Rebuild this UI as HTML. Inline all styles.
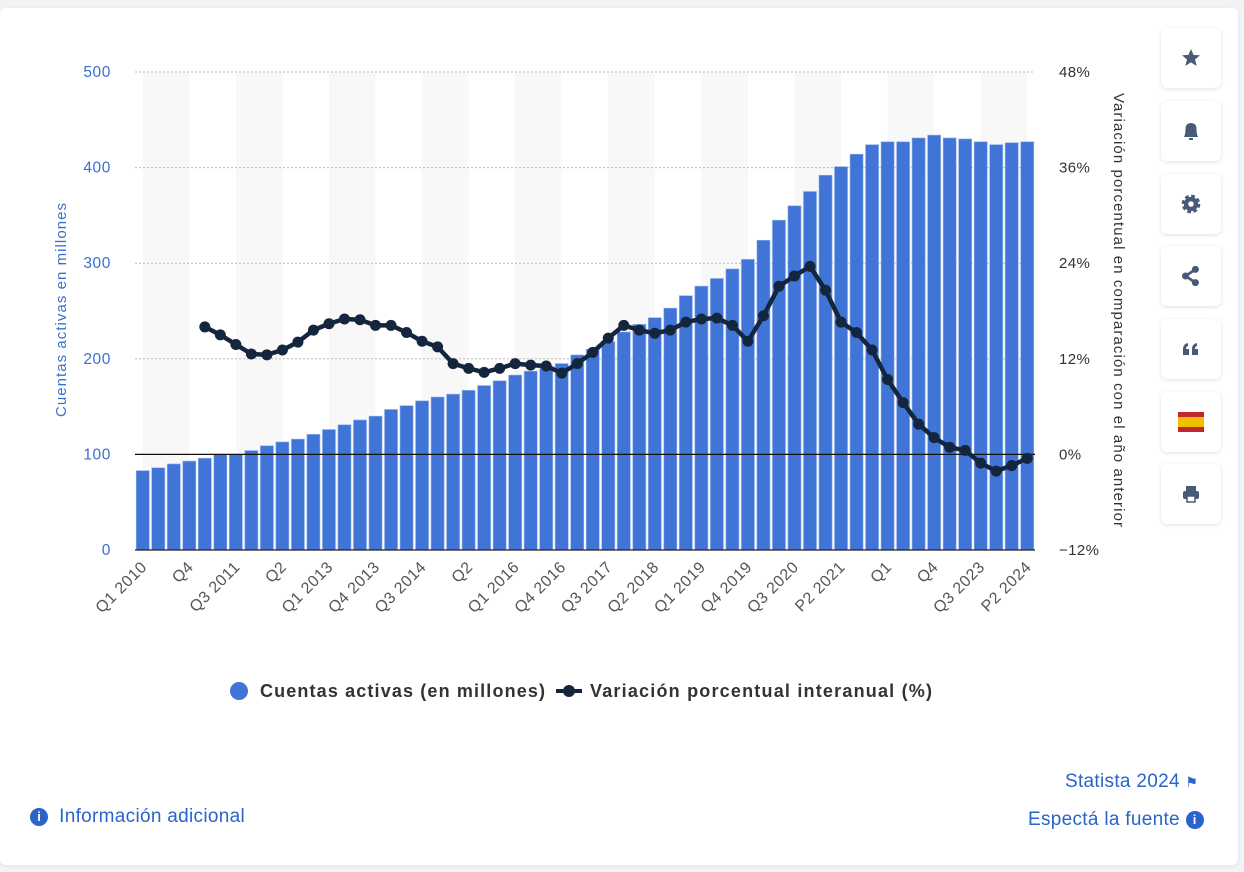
<!DOCTYPE html>
<html><head><meta charset="utf-8">
<style>
body{margin:0;width:1244px;height:872px;background:#f2f3f5;font-family:"Liberation Sans",sans-serif;overflow:hidden;position:relative}
.card{position:absolute;left:0;top:8px;width:1238px;height:857px;background:#fff;border-radius:6px;box-shadow:0 1px 4px rgba(0,0,0,.08)}
.btn{position:absolute;left:1161px;width:60px;height:60px;background:#fff;border-radius:6px;box-shadow:0 1px 4px rgba(0,0,0,.12);display:flex;align-items:center;justify-content:center}
.link{position:absolute;color:#2a63c9;font-size:19px;letter-spacing:0.3px}
.ic{display:inline-block;width:18px;height:18px;border-radius:50%;background:#2a63c9;color:#fff;font-size:13px;text-align:center;line-height:18px;font-weight:bold;vertical-align:1px;letter-spacing:0}
</style></head><body>
<div class="card"></div>
<svg id="chart" width="1244" height="872" style="position:absolute;left:0;top:0"></svg>

<div class="btn" style="top:28px"><svg width="20" height="20" viewBox="0 0 20 20"><polygon points="10,1 12.6,7 19,7.3 14,11.5 15.7,18 10,14.4 4.3,18 6,11.5 1,7.3 7.4,7" fill="#475a78"/></svg></div>
<div class="btn" style="top:101px"><svg width="20" height="22" viewBox="0 0 20 22"><path d="M3 17 Q4.5 14 4.5 9 Q4.5 3 10 3 Q15.5 3 15.5 9 Q15.5 14 17 17Z" fill="#475a78"/><rect x="8" y="18" width="4" height="2" fill="#475a78"/></svg></div>
<div class="btn" style="top:174px"><svg width="22" height="22" viewBox="0 0 20 20"><circle cx="10" cy="10" r="6.5" fill="#475a78" stroke="#475a78" stroke-width="4" stroke-dasharray="3 2.1"/><circle cx="10" cy="10" r="2.5" fill="#fff"/></svg></div>
<div class="btn" style="top:246px"><svg width="22" height="22" viewBox="0 0 20 20"><line x1="14" y1="4" x2="5" y2="10" stroke="#475a78" stroke-width="2.5"/><line x1="14" y1="16" x2="5" y2="10" stroke="#475a78" stroke-width="2.5"/><circle cx="14" cy="4" r="3.2" fill="#475a78"/><circle cx="14" cy="16" r="3.2" fill="#475a78"/><circle cx="5" cy="10" r="3.2" fill="#475a78"/></svg></div>
<div class="btn" style="top:319px"><svg width="18" height="14" viewBox="0 0 18 14"><path d="M1 13V7Q1 2 6 1V4Q4 4.5 4 7H7V13Z M10 13V7Q10 2 15 1V4Q13 4.5 13 7H16V13Z" fill="#475a78"/></svg></div>
<div class="btn" style="top:392px"><svg width="26" height="20"><rect width="26" height="20" fill="#c0282d"/><rect y="5" width="26" height="10" fill="#f1bf00"/></svg></div>
<div class="btn" style="top:464px"><svg width="20" height="20" viewBox="0 0 20 20"><rect x="5" y="2" width="10" height="5" fill="#475a78"/><rect x="2" y="7" width="16" height="8" rx="2" fill="#475a78"/><rect x="6" y="12" width="8" height="6" fill="#fff" stroke="#475a78" stroke-width="1.5"/></svg></div>

<div class="link" style="left:1065px;top:771px">Statista 2024 <span style="font-size:14px">&#9873;</span></div>
<div class="link" style="left:1028px;top:809px">Espectá la fuente <span class="ic">i</span></div>
<div class="link" style="left:30px;top:806px"><span class="ic">i</span>&nbsp; Información adicional</div>

<script>
const categories=["Q1 2010","","","Q4","","","Q3 2011","","","Q2","","","Q1 2013","","","Q4 2013","","","Q3 2014","","","Q2","","","Q1 2016","","","Q4 2016","","","Q3 2017","","","Q2 2018","","","Q1 2019","","","Q4 2019","","","Q3 2020","","","P2 2021","","","Q1","","","Q4","","","Q3 2023","","","P2 2024"];
const accounts=[83,86,90,93,96,100,100,104,109,113,116,121,126,131,136,140,147,151,156,160,163,167,172,177,183,187,190,195,204,210,218,228,236,243,253,266,276,284,294,304,324,345,360,375,392,401,414,424,427,427,431,434,431,430,427,424,426,427];
const growth=[null,null,null,null,16.0,15.0,13.8,12.6,12.5,13.1,14.1,15.6,16.4,17.0,16.9,16.2,16.2,15.3,14.2,13.5,11.4,10.8,10.3,10.8,11.4,11.2,11.1,10.2,11.4,12.8,14.6,16.2,15.6,15.2,15.6,16.6,17.0,17.1,16.2,14.2,17.4,21.1,22.4,23.6,20.6,16.6,15.3,13.1,9.4,6.5,3.8,2.1,0.9,0.5,-1.1,-2.1,-1.4,-0.5];
const leftTicks=[0,100,200,300,400,500];
const rightTicks=[-12,0,12,24,36,48];

const svg=document.getElementById('chart');
const NS='http://www.w3.org/2000/svg';
const X0=135,X1=1035,Y0=550,Y1=72;
const step=(X1-X0)/categories.length;
const xc=i=>X0+step*(i+0.5);
const yL=v=>Y0-(v/500)*(Y0-Y1);
const yR=v=>Y0-((v+12)/60)*(Y0-Y1);
function mk(tag,attrs,parent){const e=document.createElementNS(NS,tag);for(const k in attrs)e.setAttribute(k,attrs[k]);(parent||svg).appendChild(e);return e;}

for(let i=0;i+3<=categories.length;i+=6){
  const s=mk('rect',{x:xc(i),y:Y1,width:step*3,height:Y0-Y1,fill:'#f8f8f8'});
  
  
}
leftTicks.forEach(t=>{
  if(t>100){const g=mk('line',{x1:X0,x2:X1,y1:yL(t),y2:yL(t),stroke:'#bbb','stroke-dasharray':'2 2'});
  
  }
  const tx=mk('text',{x:111,y:yL(t)+5,'text-anchor':'end','font-size':15.5,fill:'#3a6fd1','letter-spacing':'0.6'});
  tx.textContent=t;
  
  
});
rightTicks.forEach(t=>{
  const tx=mk('text',{x:1059,y:yR(t)+5,'font-size':15,fill:'#333','letter-spacing':'0.4'});
  tx.textContent=(t<0?'\u2212'+(-t):t)+'%';
  
  
});
accounts.forEach((v,i)=>{
  const b=mk('rect',{x:xc(i)-step*0.42,y:yL(v),width:step*0.84,height:Y0-yL(v),fill:'#4074d6',stroke:'#8fb0ec','stroke-width':0.6});
  
  
});
const zl=mk('line',{x1:X0,x2:X1,y1:yR(0),y2:yR(0),stroke:'#111','stroke-width':1.3});


const bl=mk('line',{x1:X0,x2:X1,y1:Y0,y2:Y0,stroke:'#222','stroke-width':1.3});


let d='';growth.forEach((v,i)=>{if(v===null)return;d+=(d?'L':'M')+xc(i)+','+yR(v);});
const ln=mk('path',{d:d,fill:'none',stroke:'#14263e','stroke-width':4.5,'stroke-linejoin':'round'});


growth.forEach((v,i)=>{if(v===null)return;
  const c=mk('circle',{cx:xc(i),cy:yR(v),r:5.5,fill:'#14263e'});
  
  
});
categories.forEach((c,i)=>{if(!c)return;
  const x=xc(i)+5,y=568;
  const t=mk('text',{x:x,y:y,'text-anchor':'end','font-size':16,fill:'#555','letter-spacing':'0.5',transform:`rotate(-45 ${x} ${y})`});
  t.textContent=c;
  
  
});
const lt=mk('text',{x:66,y:310,'text-anchor':'middle','font-size':15,fill:'#3a6fd1',textLength:214,transform:'rotate(-90 66 310)'});
lt.textContent='Cuentas activas en millones';


const rt=mk('text',{x:1114,y:310,'text-anchor':'middle','font-size':15,fill:'#333',textLength:434,transform:'rotate(90 1114 310)'});
rt.textContent='Variación porcentual en comparación con el año anterior';


const lg=mk('g',{});


const c1=mk('circle',{cx:239,cy:691,r:9,fill:'#4074d6'},lg);


const t1=mk('text',{x:260,y:697,'font-size':18,'font-weight':'bold',fill:'#333',textLength:285},lg);
t1.textContent='Cuentas activas (en millones)';


const l2=mk('line',{x1:556,x2:582,y1:691,y2:691,stroke:'#14263e','stroke-width':4},lg);


const c2=mk('circle',{cx:569,cy:691,r:6,fill:'#14263e'},lg);


const t2=mk('text',{x:590,y:697,'font-size':18,'font-weight':'bold',fill:'#333',textLength:342},lg);
t2.textContent='Variación porcentual interanual (%)';


</script>
</body></html>
